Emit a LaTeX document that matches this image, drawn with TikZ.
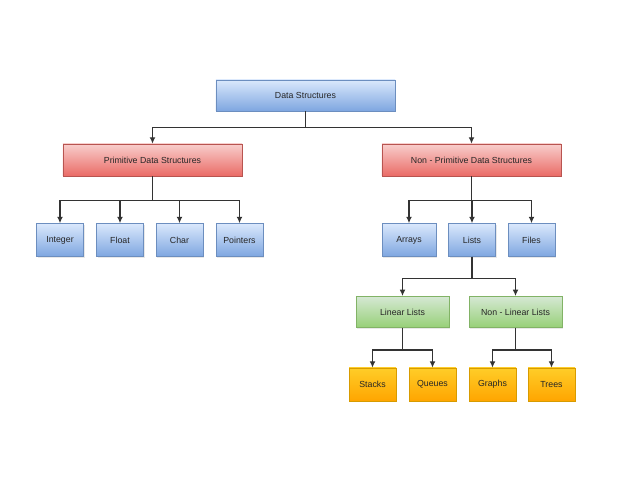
\documentclass[tikz,border=0pt]{standalone}
\usepackage{fontspec}
\setmainfont{Liberation Sans}
\usetikzlibrary{
    arrows.meta,  % For arrow tips
    shadows       % For the soft box shadows
}

\definecolor{blueTop}{HTML}{DAE8FC}
\definecolor{blueBot}{HTML}{7EA6E0}
\definecolor{blueLine}{HTML}{6C8EBF}
\definecolor{redTop}{HTML}{F8CECC}
\definecolor{redBot}{HTML}{EA6B66}
\definecolor{redLine}{HTML}{B85450}
\definecolor{greenTop}{HTML}{D5E8D4}
\definecolor{greenBot}{HTML}{97D077}
\definecolor{greenLine}{HTML}{82B366}
\definecolor{orangeTop}{HTML}{FFCD28}
\definecolor{orangeBot}{HTML}{FFA500}
\definecolor{orangeLine}{HTML}{D79B00}
\definecolor{linkGray}{HTML}{333333}

\begin{document}
\begin{tikzpicture}[
    x=0.03cm, y=0.03cm, % one unit = one pixel of the layout
    box/.style={rectangle, draw, line width=0.4pt, inner sep=0pt,
        font=\fontsize{7.5}{9}\selectfont, text=black!85,
        drop shadow={opacity=0.18, shadow xshift=1pt, shadow yshift=-1.2pt}},
    bluebox/.style={box, draw=blueLine, top color=blueTop, bottom color=blueBot},
    redbox/.style={box, draw=redLine, top color=redTop, bottom color=redBot,
        minimum width=5.37cm, minimum height=0.96cm},
    greenbox/.style={box, draw=greenLine, top color=greenTop, bottom color=greenBot,
        minimum width=2.79cm, minimum height=0.94cm},
    orangebox/.style={box, draw=orangeLine, top color=orangeTop, bottom color=orangeBot,
        minimum width=1.41cm, minimum height=0.99cm},
    leaf/.style={bluebox, minimum width=1.41cm, minimum height=0.99cm},
    link/.style={draw=linkGray, line width=1.2pt,
        -{Latex[length=5.5pt, width=5pt]}}
]
    \useasboundingbox (0,0) rectangle (638,478);

    % Root
    \node[bluebox, minimum width=5.37cm, minimum height=0.93cm] (ds) at (305.5,382.5) {Data Structures};

    % Second level
    \node[redbox] (prim) at (152.5,318) {Primitive Data Structures};
    \node[redbox] (nonprim) at (471.5,318) {Non - Primitive Data Structures};

    % Primitive types
    \node[leaf] (integer) at (60,238) {Integer};
    \node[leaf] (float) at (120,238) {Float};
    \node[leaf] (char) at (179.5,238) {Char};
    \node[leaf] (pointers) at (239.5,238) {Pointers};

    % Non-primitive types
    \node[leaf, minimum width=1.62cm] (arrays) at (409,238) {Arrays};
    \node[leaf] (lists) at (472,238) {Lists};
    \node[leaf] (files) at (531.5,238) {Files};

    % Kinds of lists
    \node[greenbox] (linear) at (402.5,166) {Linear Lists};
    \node[greenbox] (nonlinear) at (515.5,166) {Non - Linear Lists};

    % Leaves
    \node[orangebox] (stacks) at (372.5,93.5) {Stacks};
    \node[orangebox] (queues) at (432.5,93.5) {Queues};
    \node[orangebox] (graphs) at (492.5,93.5) {Graphs};
    \node[orangebox] (trees) at (551.5,93.5) {Trees};

    % Connectors (orthogonal, through a bus line)
    \foreach \child in {prim, nonprim}
        \draw[link] (ds.south) -- ++(0,-16) -| (\child.north);
    \foreach \child in {integer, float, char, pointers}
        \draw[link] (prim.south) -- ++(0,-24) -| (\child.north);
    \foreach \child in {arrays, lists, files}
        \draw[link] (nonprim.south) -- ++(0,-24) -| (\child.north);
    \foreach \child in {linear, nonlinear}
        \draw[link] (lists.south) -- ++(0,-22) -| (\child.north);
    \foreach \child in {stacks, queues}
        \draw[link] (linear.south) -- ++(0,-22) -| (\child.north);
    \foreach \child in {graphs, trees}
        \draw[link] (nonlinear.south) -- ++(0,-22) -| (\child.north);

\end{tikzpicture}
\end{document}
